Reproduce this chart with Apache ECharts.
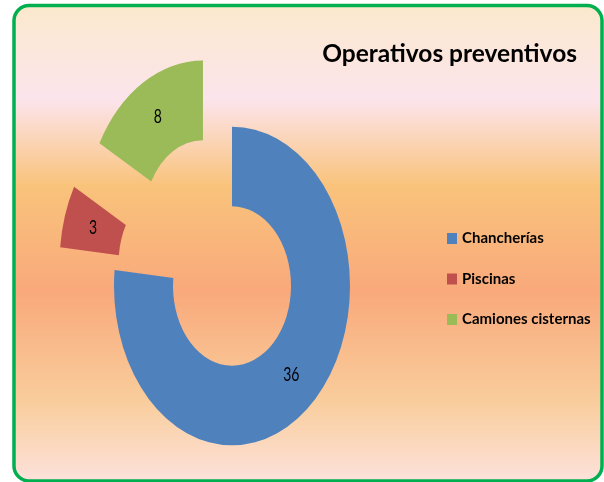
<!DOCTYPE html>
<html>
<head>
<meta charset="utf-8">
<script src="https://cdn.jsdelivr.net/npm/echarts@6/dist/echarts.min.js"></script>
<style>
    html, body { margin: 0; padding: 0; background: #fff; }
    #chart { width: 604px; height: 482px; }
</style>
</head>
<body>
<div id="chart"></div>
<script>
var categories = ['Chancherías', 'Piscinas', 'Camiones cisternas'];
var values = [36, 3, 8];
var colors = ['#4f81bd', '#c0504d', '#9bbb59'];
var exploded = [false, true, true];

// the reference donut is stretched vertically, so slices are drawn as ellipse sectors
var cx = 232, cy = 286, outerR = 118, innerR = 59, stretch = 1.35, explode = 57;
var total = 0;
for (var t = 0; t < values.length; t++) total += values[t];

function sliceRenderer(idx) {
    return function (params, api) {
        var before = 0;
        for (var k = 0; k < idx; k++) before += values[k];
        var start = -Math.PI / 2 + 2 * Math.PI * before / total;
        var end = start + 2 * Math.PI * api.value(0) / total;
        var mid = (start + end) / 2;
        var d = exploded[idx] ? explode : 0;
        var ox = Math.cos(mid) * d, oy = Math.sin(mid) * d;
        var lr = (outerR + innerR) / 2 + d;
        return {
            type: 'group',
            children: [{
                type: 'sector',
                originX: cx,
                originY: cy,
                scaleY: stretch,
                shape: {
                    cx: cx + ox, cy: cy + oy,
                    r: outerR, r0: innerR,
                    startAngle: start, endAngle: end
                },
                style: { fill: api.visual('color') }
            }, {
                type: 'text',
                x: cx + Math.cos(mid) * lr,
                y: cy + Math.sin(mid) * lr * stretch,
                scaleY: stretch,
                style: {
                    text: String(api.value(0)),
                    fontFamily: 'Lato',
                    fontSize: 14,
                    fill: '#000',
                    align: 'center',
                    verticalAlign: 'middle'
                }
            }]
        };
    };
}

var series = [];
for (var i = 0; i < categories.length; i++) {
    series.push({
        type: 'custom',
        name: categories[i],
        coordinateSystem: 'none',
        itemStyle: { color: colors[i] },
        renderItem: sliceRenderer(i),
        data: [[values[i]]]
    });
}

var chart = echarts.init(document.getElementById('chart'));
chart.setOption({
    animation: false,
    backgroundColor: '#fff',
    graphic: [{
        type: 'rect',
        z: -10,
        silent: true,
        shape: { x: 14, y: 5.5, width: 588, height: 475.5, r: 15 },
        style: {
            fill: new echarts.graphic.LinearGradient(0, 0, 0, 1, [
                { offset: 0, color: '#fbe9cc' },
                { offset: 0.2, color: '#fce4ec' },
                { offset: 0.38, color: '#f9c37b' },
                { offset: 0.6, color: '#f9a97b' },
                { offset: 0.83, color: '#f9cd9c' },
                { offset: 1, color: '#fde2dc' }
            ]),
            stroke: '#00b050',
            lineWidth: 3.5
        }
    }],
    title: {
        text: 'Operativos preventivos',
        right: 27,
        top: 42,
        padding: 0,
        textStyle: {
            fontFamily: 'Lato',
            fontSize: 24.5,
            fontWeight: 'bold',
            color: '#000'
        }
    },
    legend: {
        orient: 'vertical',
        left: 447,
        top: 231,
        padding: 0,
        itemGap: 25.5,
        itemWidth: 10,
        itemHeight: 11,
        icon: 'rect',
        data: categories,
        textStyle: {
            fontFamily: 'Lato',
            fontSize: 15,
            fontWeight: 'bold',
            color: '#000'
        }
    },
    series: series
});
</script>
</body>
</html>
